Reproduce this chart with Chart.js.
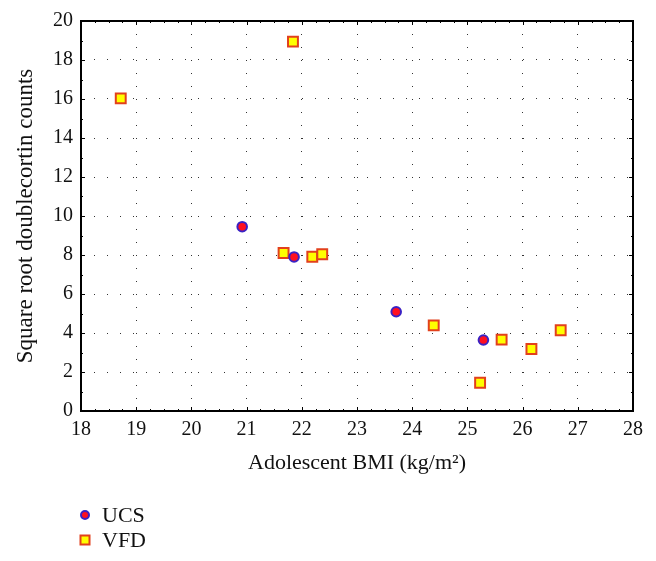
<!DOCTYPE html>
<html>
<head>
<meta charset="utf-8">
<script src="https://cdn.jsdelivr.net/npm/chart.js@4/dist/chart.umd.min.js"></script>
<style>
  html, body { margin: 0; padding: 0; background: #fff; }
  canvas { display: block; }
</style>
</head>
<body>
<canvas id="bmiChart" width="656" height="561"></canvas>
<script>
// data
const seriesNames = ['UCS', 'VFD'];
const ucsBmi = [20.92, 21.86, 23.71, 25.29];
const ucsCounts = [9.45, 7.9, 5.09, 3.64];
const vfdBmi = [18.72, 21.84, 21.67, 22.19, 22.37, 24.39, 25.23, 25.62, 26.16, 26.69];
const vfdCounts = [16.03, 18.94, 8.1, 7.91, 8.04, 4.39, 1.45, 3.66, 3.18, 4.14];
const xTicks = [18, 19, 20, 21, 22, 23, 24, 25, 26, 27, 28];
const yTicks = [0, 2, 4, 6, 8, 10, 12, 14, 16, 18, 20];

const FONT = "'Liberation Serif', 'DejaVu Serif', serif";

function toPoints(xs, ys) {
    return xs.map(function(x, i) { return { x: x, y: ys[i] }; });
}

// frame round the plot + small inward ticks like the original
const framePlugin = {
    id: 'frame',
    afterDatasetsDraw: function(chart) {
        const ctx = chart.ctx;
        const a = chart.chartArea;
        const xs = chart.scales.x;
        const ys = chart.scales.y;
        ctx.save();
        ctx.strokeStyle = '#000';
        ctx.lineWidth = 1;
        // minor ticks on x every quarter unit
        for (let v = xTicks[0]; v <= xTicks[xTicks.length - 1] + 0.001; v += 0.25) {
            const px = Math.round(xs.getPixelForValue(v)) + 0.5;
            const len = Number.isInteger(v) ? 4 : 2;
            ctx.beginPath();
            ctx.moveTo(px, a.bottom); ctx.lineTo(px, a.bottom - len);
            ctx.moveTo(px, a.top); ctx.lineTo(px, a.top + len);
            ctx.stroke();
        }
        // minor ticks on y every unit
        for (let v = yTicks[0]; v <= yTicks[yTicks.length - 1]; v += 1) {
            const py = Math.round(ys.getPixelForValue(v)) + 0.5;
            const len = v % 2 === 0 ? 4 : 2;
            ctx.beginPath();
            ctx.moveTo(a.left, py); ctx.lineTo(a.left + len, py);
            ctx.moveTo(a.right, py); ctx.lineTo(a.right - len, py);
            ctx.stroke();
        }
        ctx.lineWidth = 2;
        ctx.strokeRect(a.left, a.top, a.right - a.left, a.bottom - a.top);
        ctx.restore();
    }
};

// legend stacked at the bottom left
const stackedLegend = {
    id: 'stackedLegend',
    afterDraw: function(chart) {
        const ctx = chart.ctx;
        ctx.save();
        ctx.font = '22px ' + FONT;
        ctx.textBaseline = 'middle';
        chart.data.datasets.forEach(function(ds, i) {
            const cx = 85;
            const cy = 515 + i * 25;
            ctx.fillStyle = ds.backgroundColor;
            ctx.strokeStyle = ds.borderColor;
            ctx.lineWidth = 2;
            ctx.beginPath();
            if (ds.pointStyle === 'circle') {
                ctx.arc(cx, cy, 4, 0, Math.PI * 2);
            } else {
                ctx.rect(cx - 4.5, cy - 4.5, 9, 9);
            }
            ctx.fill();
            ctx.stroke();
            ctx.fillStyle = '#111';
            ctx.fillText(ds.label, 102, cy + 1);
        });
        ctx.restore();
    }
};

const ctx = document.getElementById('bmiChart').getContext('2d');
const chart = new Chart(ctx, {
    type: 'scatter',
    data: {
        datasets: [
            {
                label: seriesNames[0],
                data: toPoints(ucsBmi, ucsCounts),
                pointStyle: 'circle',
                pointRadius: 4.8,
                pointHoverRadius: 4.8,
                backgroundColor: '#ff1020',
                borderColor: '#3a22c4',
                borderWidth: 2
            },
            {
                label: seriesNames[1],
                data: toPoints(vfdBmi, vfdCounts),
                pointStyle: 'rect',
                pointRadius: 7,
                pointHoverRadius: 7,
                backgroundColor: '#ffff00',
                borderColor: '#e2401c',
                borderWidth: 2
            }
        ]
    },
    options: {
        responsive: false,
        animation: false,
        layout: { padding: { left: 0, top: 21, right: 23, bottom: 80 } },
        plugins: {
            legend: { display: false },
            tooltip: { enabled: false }
        },
        scales: {
            x: {
                type: 'linear',
                min: xTicks[0],
                max: xTicks[xTicks.length - 1],
                afterBuildTicks: function(scale) {
                    scale.ticks = xTicks.map(function(v) { return { value: v }; });
                },
                afterFit: function(scale) { scale.height = 70; },
                grid: { color: '#333', lineWidth: 1, drawTicks: false },
                border: { display: false, dash: [1, 12] },
                ticks: {
                    padding: 7,
                    color: '#111',
                    font: { family: FONT, size: 20 }
                },
                title: {
                    display: true,
                    text: 'Adolescent BMI (kg/m\u00B2)',
                    color: '#111',
                    font: { family: FONT, size: 22 },
                    padding: { top: 0, bottom: 5 }
                }
            },
            y: {
                type: 'linear',
                min: yTicks[0],
                max: yTicks[yTicks.length - 1],
                afterBuildTicks: function(scale) {
                    scale.ticks = yTicks.map(function(v) { return { value: v }; });
                },
                afterFit: function(scale) { scale.width = 81; },
                grid: { color: '#333', lineWidth: 1, drawTicks: false },
                border: { display: false, dash: [1, 12] },
                ticks: {
                    padding: 8,
                    color: '#111',
                    font: { family: FONT, size: 20 }
                },
                title: {
                    display: true,
                    text: 'Square root doublecortin counts',
                    color: '#111',
                    font: { family: FONT, size: 23 },
                    padding: { top: 12, bottom: 0 }
                }
            }
        }
    },
    plugins: [framePlugin, stackedLegend]
});
</script>
</body>
</html>
